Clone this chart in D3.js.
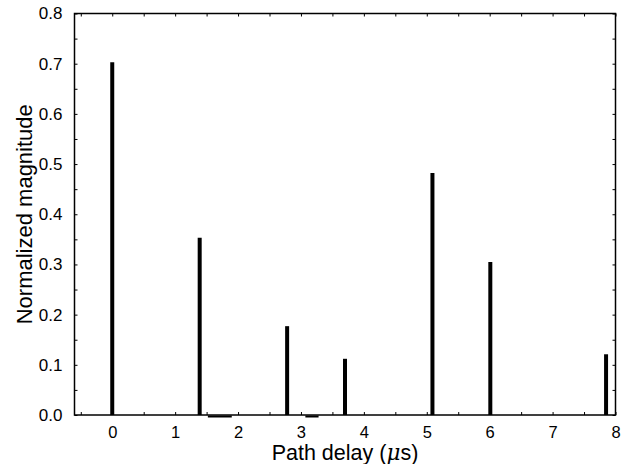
<!DOCTYPE html>
<html>
<head>
<meta charset="utf-8">
<script src="https://cdn.jsdelivr.net/npm/d3@7"></script>
<style>
  html, body { margin: 0; padding: 0; background: #fff; }
  svg text { font-family: "Liberation Sans", Arial, Helvetica, sans-serif; fill: #000; }
</style>
</head>
<body>
<svg id="chart" width="628" height="464"></svg>
<script>
// ---- data ----
const delays = [0, 1.39, 2.78, 3.70, 5.09, 6.01, 7.85];
const magnitudes = [0.703, 0.353, 0.177, 0.112, 0.482, 0.305, 0.121];
// small near-zero residues lying on the baseline
const residueStart = [1.52, 3.07];
const residueEnd = [1.90, 3.28];
const xTickValues = [0, 1, 2, 3, 4, 5, 6, 7, 8];
const yTickValues = [0.0, 0.1, 0.2, 0.3, 0.4, 0.5, 0.6, 0.7, 0.8];
const xLabel = "Path delay (";
const yLabel = "Normalized magnitude";

const svg = d3.select("#chart");
const m = { left: 74.5, right: 615.5, top: 13.5, bottom: 415 };

const x = d3.scaleLinear().domain([-0.6, 8]).range([m.left, m.right]);
const y = d3.scaleLinear().domain([0, 0.8]).range([m.bottom, m.top]);

// minor tick positions
const xMinor = d3.range(-0.5, 8.001, 0.5);
const yMinor = d3.range(0, 0.8001, 0.05);

const g = svg.append("g");

// bottom axis (minor ticks) + labels
const ba = g.append("g").attr("transform", `translate(0,${m.bottom})`)
  .call(d3.axisBottom(x).tickValues(xMinor).tickSize(-3).tickFormat(""));
const bl = g.append("g").attr("transform", `translate(0,${m.bottom})`)
  .call(d3.axisBottom(x).tickValues(xTickValues).tickSize(0).tickFormat(d3.format("d")));
bl.selectAll("text").attr("y", 11).attr("font-size", 16.5);

// top axis
const ta = g.append("g").attr("transform", `translate(0,${m.top})`)
  .call(d3.axisTop(x).tickValues(xMinor).tickSize(-3).tickFormat(""));

// left axis
const la = g.append("g").attr("transform", `translate(${m.left},0)`)
  .call(d3.axisLeft(y).tickValues(yMinor).tickSize(-3).tickFormat(""));
const ll = g.append("g").attr("transform", `translate(${m.left},0)`)
  .call(d3.axisLeft(y).tickValues(yTickValues).tickSize(0).tickFormat(d3.format(".1f")));
ll.selectAll("text").attr("x", -12).attr("font-size", 17);

// right axis
const ra = g.append("g").attr("transform", `translate(${m.right},0)`)
  .call(d3.axisRight(y).tickValues(yMinor).tickSize(-3).tickFormat(""));

[ba, bl, ta, la, ll, ra].forEach(a => {
  a.select(".domain").remove();
  a.selectAll("line").attr("stroke", "#000").attr("stroke-width", 1);
});

// frame
g.append("rect")
  .attr("x", m.left).attr("y", m.top)
  .attr("width", m.right - m.left).attr("height", m.bottom - m.top)
  .attr("fill", "none").attr("stroke", "#000").attr("stroke-width", 1.5);

// bars (stems)
const data = delays.map((d, i) => ({ d, v: magnitudes[i] }));
g.append("g").selectAll("line").data(data).join("line")
  .attr("x1", p => x(p.d)).attr("x2", p => x(p.d))
  .attr("y1", y(0)).attr("y2", p => y(p.v))
  .attr("stroke", "#000").attr("stroke-width", 4);

// residues
g.append("g").selectAll("line").data(residueStart.map((s, i) => [s, residueEnd[i]])).join("line")
  .attr("x1", r => x(r[0])).attr("x2", r => x(r[1]))
  .attr("y1", y(0) + 1.5).attr("y2", y(0) + 1.5)
  .attr("stroke", "#000").attr("stroke-width", 2);

// axis titles
const xt = svg.append("text")
  .attr("x", (m.left + m.right) / 2).attr("y", 460)
  .attr("text-anchor", "middle").attr("font-size", 21.5);
xt.append("tspan").text(xLabel);
xt.append("tspan").attr("font-style", "italic").attr("font-family", "'DejaVu Serif', serif").text("\u03bc");
xt.append("tspan").text("s)");

svg.append("text")
  .attr("transform", `translate(32,${(m.top + m.bottom) / 2}) rotate(-90)`)
  .attr("text-anchor", "middle").attr("font-size", 22)
  .text(yLabel);
</script>
</body>
</html>
